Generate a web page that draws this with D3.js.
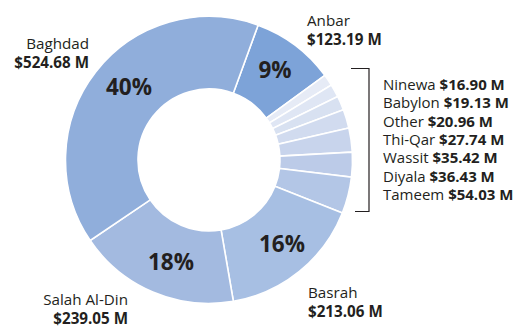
<!DOCTYPE html>
<html>
<head>
<meta charset="utf-8">
<script src="https://cdn.jsdelivr.net/npm/d3@7"></script>
<style>
  html, body { margin: 0; padding: 0; background: #fff; }
  svg text { font-family: "Open Sans", "Noto Sans", sans-serif; fill: #231f20; }
</style>
</head>
<body>
<svg id="chart" width="518" height="327"></svg>
<script>
// Provinces in clockwise order, starting just right of the top
const provinces = ["Anbar", "Ninewa", "Babylon", "Other", "Thi-Qar", "Wassit", "Diyala", "Tameem", "Basrah", "Salah Al-Din", "Baghdad"];
const amounts = [123.19, 16.90, 19.13, 20.96, 27.74, 35.42, 36.43, 54.03, 213.06, 239.05, 524.68];
const fills = ["#7da3d8", "#e6ebf6", "#dfe6f4", "#d8e1f1", "#d1dbef", "#c8d4ec", "#bccbe8", "#b3c6e6", "#a7bfe3", "#a3bae0", "#90aedb"];
// Small provinces listed beside the bracket
const listed = ["Ninewa", "Babylon", "Other", "Thi-Qar", "Wassit", "Diyala", "Tameem"];

const svg = d3.select("#chart");
const cx = 209, cy = 160, outerR = 143.5, innerR = 71;

const data = provinces.map((p, i) => ({ name: p, value: amounts[i], fill: fills[i] }));
const total = d3.sum(amounts);
const fmt = v => "$" + d3.format(".2f")(v) + " M";
const pct = v => Math.round(v / total * 100) + "%";

const pie = d3.pie().sort(null).value(d => d.value)
  .startAngle(20 * Math.PI / 180).endAngle(380 * Math.PI / 180);
const arc = d3.arc().innerRadius(innerR).outerRadius(outerR);
const arcs = pie(data);

const g = svg.append("g").attr("transform", `translate(${cx},${cy})`);
g.selectAll("path").data(arcs).join("path")
  .attr("d", arc)
  .attr("fill", d => d.data.fill)
  .attr("stroke", "#fff")
  .attr("stroke-width", 1.6);

// Percentage labels on the large slices
const pctPos = { "Anbar": [275, 78], "Basrah": [282, 252], "Salah Al-Din": [171, 270], "Baghdad": [129, 95] };
arcs.filter(d => pctPos[d.data.name]).forEach(d => {
  const [x, y] = pctPos[d.data.name];
  svg.append("text").attr("x", x).attr("y", y)
    .attr("text-anchor", "middle")
    .attr("font-size", 22.5).attr("font-weight", 700)
    .text(pct(d.data.value));
});

// Name + amount labels for the large slices
const outLabels = {
  "Anbar": { x: 307, y: 26, anchor: "start" },
  "Basrah": { x: 308, y: 298, anchor: "start" },
  "Salah Al-Din": { x: 128, y: 305, anchor: "end" },
  "Baghdad": { x: 89, y: 49, anchor: "end" }
};
data.filter(d => outLabels[d.name]).forEach(d => {
  const o = outLabels[d.name];
  const t = svg.append("text").attr("x", o.x).attr("y", o.y)
    .attr("text-anchor", o.anchor).attr("font-size", 15.2);
  t.append("tspan").attr("x", o.x).text(d.name);
  t.append("tspan").attr("x", o.x).attr("dy", 18.5).attr("font-weight", 700).text(fmt(d.value));
});

// Bracketed list of the small provinces
const listY = d3.scalePoint().domain(listed).range([90, 200]);
listed.forEach(name => {
  const d = data.find(e => e.name === name);
  const t = svg.append("text").attr("x", 383).attr("y", listY(name)).attr("font-size", 15);
  t.append("tspan").text(name + " ");
  t.append("tspan").attr("font-weight", 700).text(fmt(d.value));
});
svg.append("path")
  .attr("d", "M351,68.5 H369 V211.5 H355")
  .attr("fill", "none").attr("stroke", "#231f20").attr("stroke-width", 1.2);
</script>
</body>
</html>
